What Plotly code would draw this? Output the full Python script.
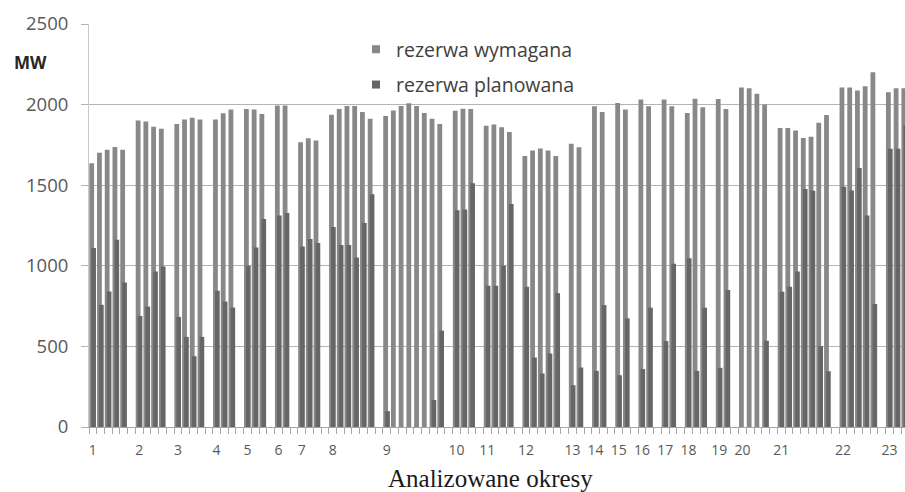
import plotly.graph_objects as go

# ---- data ----
period_labels = [str(i) for i in range(1, 24)]
days_per_period = [5, 4, 4, 3, 3, 2, 3, 6, 8, 3, 4, 5, 2, 2, 2, 2, 2, 3, 2, 4, 7, 5, 3]

required_mw = [
    1636, 1702, 1720, 1737, 1720,
    1901, 1895, 1862, 1850,
    1879, 1907, 1918, 1907,
    1907, 1947, 1969,
    1973, 1969, 1942,
    1994, 1994,
    1767, 1792, 1777,
    1937, 1973, 1992, 1992, 1954, 1912,
    1929, 1964, 1992, 2008, 1992, 1948, 1912, 1879,
    1962, 1974, 1972,
    1869, 1876, 1859, 1830,
    1681, 1716, 1728, 1716, 1681,
    1757, 1735,
    1990, 1954,
    2010, 1969,
    2031, 1990,
    2031, 1990,
    1948, 2037, 1983,
    2035, 1973,
    2106, 2102, 2068, 2000,
    1855, 1855, 1840, 1793, 1801, 1888, 1936,
    2106, 2106, 2087, 2114, 2201,
    2077, 2102, 2102,
]

planned_mw = [
    1110, 758, 841, 1161, 896,
    689, 747, 965, 996,
    683, 559, 439, 559,
    845, 778, 741,
    1000, 1114, 1290,
    1312, 1327,
    1119, 1167, 1142,
    1240, 1129, 1129, 1052, 1265, 1444,
    98, 0, 0, 0, 0, 0, 167, 598,
    1345, 1350, 1512,
    877, 877, 1001, 1384,
    870, 431, 332, 456, 829,
    259, 369,
    348, 756,
    321, 674,
    359, 740,
    533, 1013,
    1047, 348, 740,
    367, 850,
    0, 0, 0, 535,
    839, 870, 964, 1476, 1465, 502, 346,
    1490, 1467, 1606, 1312, 763,
    1726, 1726, 1870,
]

y_ticks = [0, 500, 1000, 1500, 2000, 2500]

# ---- category slots: one empty slot between periods ----
slots = []
period_start = []
pos = 0
for n in days_per_period:
    period_start.append(pos)
    slots.extend(range(pos, pos + n))
    pos += n + 1
boundaries = [s - 0.5 for s in range(0, pos + 1)]

LIGHT = "#888888"
DARK = "#666666"
GRID = "#b4b4b4"
TXT = "#595959"

fig = go.Figure()
fig.add_trace(go.Bar(x=slots, y=required_mw, width=0.62, offset=-0.46,
                     marker=dict(color=LIGHT, line=dict(width=0)),
                     showlegend=False, name="rezerwa wymagana"))
fig.add_trace(go.Bar(x=slots, y=planned_mw, width=0.6, offset=-0.2,
                     marker=dict(color=DARK, line=dict(width=0)),
                     showlegend=False, name="rezerwa planowana"))
# legend entries (small square keys)
fig.add_trace(go.Scatter(x=[None], y=[None], mode="markers", name="rezerwa wymagana",
                         marker=dict(symbol="square", size=8, color=LIGHT),
                         legendgroup="a"))
fig.add_trace(go.Scatter(x=[None], y=[None], mode="markers", name="rezerwa planowana",
                         marker=dict(symbol="square", size=8, color=DARK),
                         legendgroup="b"))

fig.update_layout(
    width=905, height=492,
    margin=dict(l=89, r=0, t=24, b=65, autoexpand=False),
    paper_bgcolor="white", plot_bgcolor="white",
    barmode="overlay",
    font=dict(family="Open Sans", color=TXT),
    showlegend=True,
    legend=dict(x=(356 - 89) / 816, xanchor="left",
                y=0.985, yanchor="top",
                traceorder="grouped", tracegroupgap=7,
                font=dict(family="Open Sans", size=19.5, color="#404040"),
                bgcolor="rgba(0,0,0,0)"),
    xaxis=dict(
        range=[-0.5, 105.0],
        showgrid=False, zeroline=False,
        showline=True, linecolor="#a6a6a6", linewidth=1,
        tickmode="array", tickvals=period_start, ticktext=period_labels,
        ticks="", ticklabelstandoff=10, tickangle=0,
        tickfont=dict(family="Open Sans", size=14, color=TXT),
        minor=dict(tickmode="array", tickvals=boundaries, ticks="outside",
                   ticklen=6, tickcolor="#a6a6a6", tickwidth=1, showgrid=False),
    ),
    yaxis=dict(
        range=[0, 2500],
        tickmode="array", tickvals=y_ticks,
        showgrid=True, gridcolor=GRID, gridwidth=1,
        zeroline=False,
        showline=True, linecolor="#c8c8c8", linewidth=1,
        ticks="outside", ticklen=7, tickcolor=GRID,
        ticklabelstandoff=9,
        tickfont=dict(family="Open Sans", size=18.5, color=TXT),
    ),
    annotations=[
        dict(text="<b>MW</b>", xref="paper", yref="paper",
             x=-(89 - 12) / 816, y=1 - (62 - 24) / 403,
             xanchor="left", yanchor="middle", showarrow=False,
             font=dict(family="Open Sans", size=17, color="#262626")),
        dict(text="Analizowane okresy", xref="paper", yref="paper",
             x=(490 - 89) / 816, y=-(479 - 427) / 403,
             xanchor="center", yanchor="middle", showarrow=False,
             font=dict(family="Liberation Serif", size=25, color="#1a1a1a")),
    ],
)

fig.write_html("out.html")
